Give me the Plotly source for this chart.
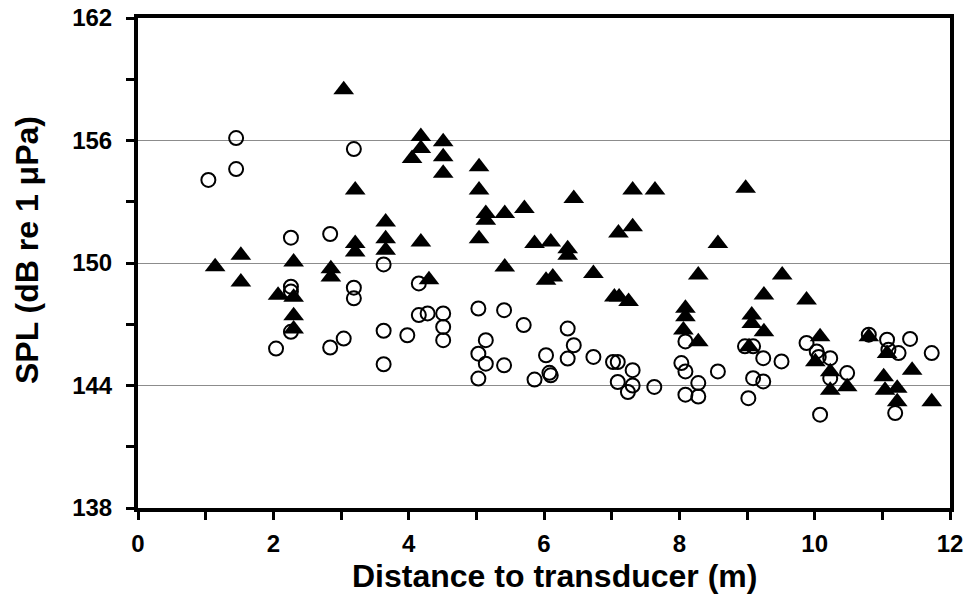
import plotly.graph_objects as go

circle_x = [1.04, 1.45, 1.45, 2.26, 2.26, 2.26, 2.26, 2.04, 2.84, 2.84, 3.04, 3.19, 3.19, 3.19,
            3.63, 3.63, 3.63, 3.98, 4.15, 4.15, 4.28, 4.51, 4.51, 4.51, 5.03, 5.03, 5.03, 5.14,
            5.14, 5.41, 5.41, 5.70, 5.86, 6.10, 6.08, 6.03, 6.35, 6.44, 6.35, 6.73, 7.02, 7.09,
            7.09, 7.31, 7.31, 7.24, 7.63, 8.09, 8.03, 8.09, 8.28, 8.09, 8.28, 8.57, 8.97, 9.09,
            9.24, 9.51, 9.09, 9.24, 9.02, 9.88, 10.03, 10.06, 10.23, 10.23, 10.48, 10.08, 10.80,
            11.07, 11.09, 11.24, 11.41, 11.73, 11.19]
circle_y = [154.07, 156.12, 154.6, 151.24, 148.84, 148.6, 146.63, 145.81, 151.42, 145.86, 146.3,
            155.58, 148.79, 148.27, 149.93, 146.68, 145.04, 146.46, 149.0, 147.45, 147.53, 147.53,
            146.87, 146.22, 147.77, 145.56, 144.34, 146.22, 145.07, 147.69, 144.99, 146.96, 144.29,
            144.5, 144.62, 145.48, 146.79, 145.97, 145.32, 145.4, 145.15, 145.15, 144.17, 144.75,
            144.0, 143.68, 143.93, 146.16, 145.1, 144.69, 144.12, 143.55, 143.46, 144.69, 145.92,
            145.92, 145.34, 145.18, 144.36, 144.2, 143.38, 146.08, 145.67, 145.4, 145.34, 144.36,
            144.61, 142.57, 146.49, 146.24, 145.75, 145.59, 146.28, 145.59, 142.65]

tri_x = [1.14, 1.52, 1.52, 2.07, 2.30, 2.30, 2.30, 2.30, 2.85, 2.85, 3.04, 3.21, 3.21, 3.21,
         3.66, 3.66, 3.66, 4.05, 4.18, 4.18, 4.51, 4.51, 4.51, 4.18, 4.30, 5.04, 5.04, 5.14,
         5.14, 5.04, 5.42, 5.42, 5.71, 5.86, 6.10, 6.35, 6.35, 6.03, 6.13, 6.44, 6.73, 7.04,
         7.11, 7.25, 7.10, 7.31, 7.31, 7.64, 8.98, 8.57, 8.28, 8.09, 8.09, 8.06, 8.28, 9.52,
         9.25, 9.07, 9.07, 9.25, 9.03, 9.88, 10.08, 10.01, 10.23, 10.23, 10.48, 10.80, 11.07,
         11.02, 11.22, 11.04, 11.22, 11.44, 11.73]
tri_y = [149.82, 150.38, 149.07, 148.42, 150.05, 148.32, 147.42, 146.77, 149.72, 149.32, 158.48,
         153.57, 150.95, 150.54, 152.01, 151.19, 150.62, 155.12, 156.19, 155.61, 155.94, 155.2,
         154.39, 151.03, 149.18, 154.71, 153.57, 152.42, 152.09, 151.19, 152.42, 149.8, 152.67,
         150.95, 151.03, 150.7, 150.38, 149.15, 149.31, 153.16, 149.48, 148.33, 148.33, 148.12,
         151.47, 151.77, 153.57, 153.57, 153.66, 150.96, 149.41, 147.78, 147.37, 146.72, 146.14,
         149.41, 148.43, 147.45, 147.04, 146.63, 145.9, 148.19, 146.39, 145.16, 144.67, 143.77,
         143.94, 146.39, 145.57, 144.43, 143.86, 143.77, 143.2, 144.75, 143.2]

x_ticks = [0, 2, 4, 6, 8, 10, 12]
y_ticks = [138, 144, 150, 156, 162]
x_title = "Distance to transducer (m)"
y_title = "SPL (dB re 1 μPa)"

fam = "Liberation Sans"

fig = go.Figure()
fig.add_trace(go.Scatter(
    x=circle_x, y=circle_y, mode="markers",
    marker=dict(symbol="circle-open", size=14, color="black", line=dict(width=2, color="black")),
    showlegend=False, hoverinfo="skip"))
fig.add_trace(go.Scatter(
    x=tri_x, y=tri_y, mode="markers",
    marker=dict(symbol="triangle-up", size=18, color="black", line=dict(width=0)),
    showlegend=False, hoverinfo="skip"))

fig.update_layout(
    width=969, height=599,
    margin=dict(l=138, r=19, t=18, b=91, autoexpand=False),
    paper_bgcolor="white", plot_bgcolor="white",
    font=dict(family=fam, color="black", size=24),
    xaxis=dict(
        range=[0, 12], tickmode="array", tickvals=x_ticks, ticktext=["<b>%d</b>" % v for v in x_ticks],
        showgrid=False, zeroline=False, automargin=False,
        showline=True, linewidth=4, linecolor="black", mirror=True,
        ticks="outside", ticklen=8, tickwidth=3, tickcolor="black",
        minor=dict(dtick=1, tick0=0, ticks="outside", ticklen=8, tickwidth=3, tickcolor="black", showgrid=False),
        tickfont=dict(family=fam, color="black", size=24), ticklabelstandoff=3,
    ),
    yaxis=dict(
        range=[138, 162], tickmode="array", tickvals=y_ticks, ticktext=["<b>%d</b>" % v for v in y_ticks],
        showgrid=True, gridcolor="#8c8c8c", gridwidth=1, zeroline=False, automargin=False,
        showline=True, linewidth=4, linecolor="black", mirror=True,
        ticks="outside", ticklen=8, tickwidth=3, tickcolor="black",
        minor=dict(dtick=3, tick0=138, ticks="outside", ticklen=8, tickwidth=3, tickcolor="black", showgrid=False),
        tickfont=dict(family=fam, color="black", size=24), ticklabelstandoff=9,
    ),
    annotations=[
        dict(text="<b>%s</b>" % x_title, xref="paper", yref="paper", x=0.5135, y=-0.1388,
             xanchor="center", yanchor="middle", showarrow=False,
             font=dict(family=fam, color="black", size=32)),
        dict(text="<b>%s</b>" % y_title, xref="paper", yref="paper", x=0, y=0.5265, xshift=-111,
             xanchor="center", yanchor="middle", textangle=-90, showarrow=False,
             font=dict(family=fam, color="black", size=32)),
    ],
)

fig.write_html("out.html")
